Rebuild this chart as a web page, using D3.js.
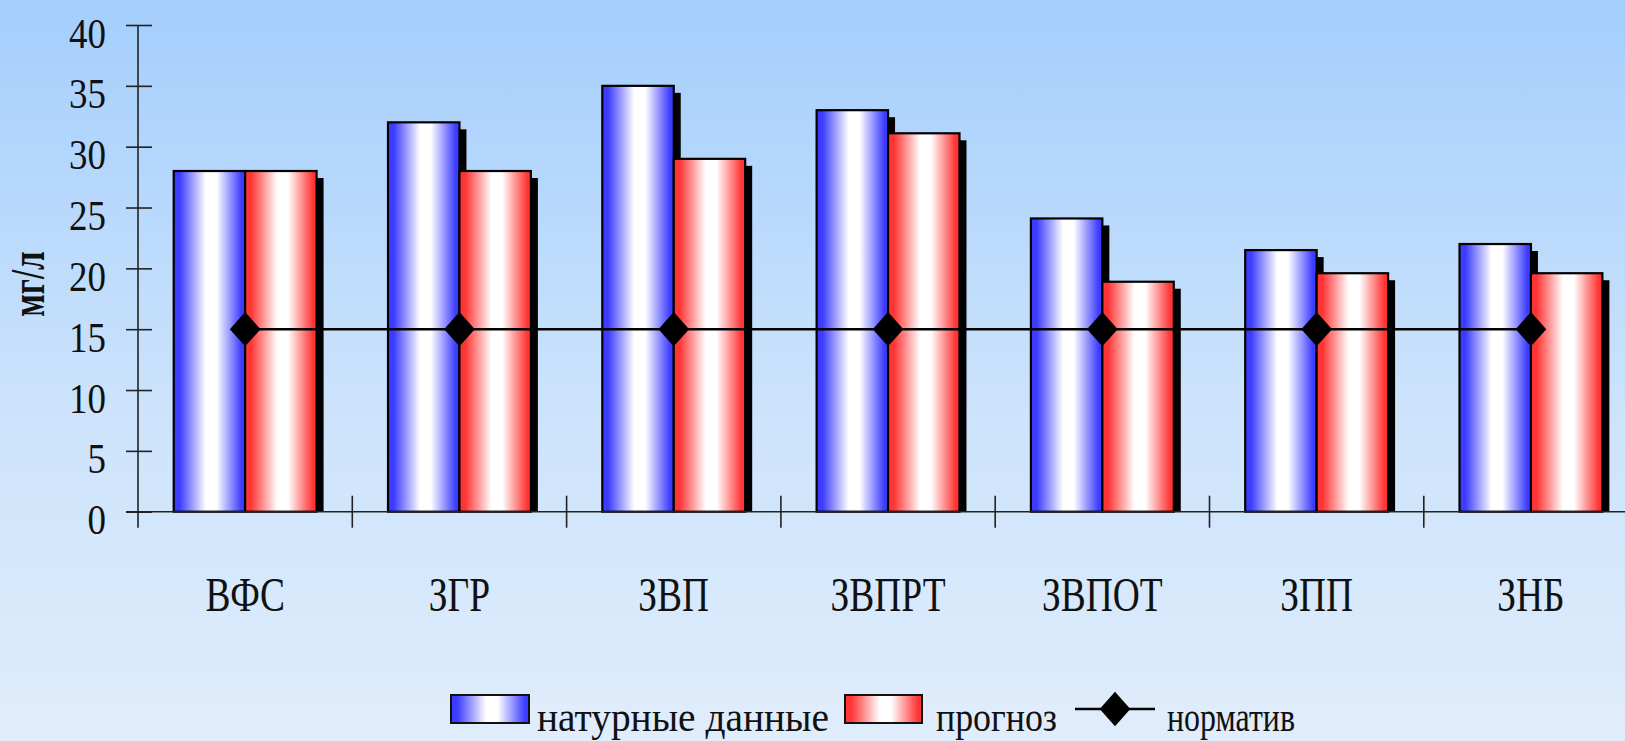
<!DOCTYPE html>
<html>
<head>
<meta charset="utf-8">
<script src="https://cdn.jsdelivr.net/npm/d3@7"></script>
<style>
  html, body { margin: 0; padding: 0; }
  body { width: 1625px; height: 741px; overflow: hidden; }
  svg { display: block; }
  svg text { font-family: "Liberation Serif", "DejaVu Serif", serif; }
</style>
</head>
<body>
<svg id="chart" width="1625" height="741"></svg>
<script>
// Concentrations, mg/l, per monitoring site
const categories = ["ВФС", "ЗГР", "ЗВП", "ЗВПРТ", "ЗВПОТ", "ЗПП", "ЗНБ"];
const observed = [28, 32, 35, 33, 24.1, 21.5, 22];
const forecast = [28, 28, 29, 31.1, 18.9, 19.6, 19.6];
const norm = [15, 15, 15, 15, 15, 15, 15];
const yTicks = [0, 5, 10, 15, 20, 25, 30, 35, 40];
const seriesNames = ["натурные данные", "прогноз", "норматив"];
const yTitle = "мг/л";

const W = 1625, H = 741;
const svg = d3.select("#chart");
const defs = svg.append("defs");

// page background
const bg = defs.append("linearGradient").attr("id", "bg")
  .attr("x1", 0).attr("y1", 0).attr("x2", 0).attr("y2", 1);
bg.append("stop").attr("offset", "0%").attr("stop-color", "#a4cefd");
bg.append("stop").attr("offset", "55%").attr("stop-color", "#cce3fb");
bg.append("stop").attr("offset", "100%").attr("stop-color", "#e0edfb");
svg.append("rect").attr("width", W).attr("height", H).attr("fill", "url(#bg)");

// cylinder-like horizontal shading for the bars
function shade(id, c) {
  const g = defs.append("linearGradient").attr("id", id)
    .attr("x1", 0).attr("y1", 0).attr("x2", 1).attr("y2", 0);
  [[0, c], [0.08, c], [0.45, "#ffffff"], [0.6, "#ffffff"], [0.95, c], [1, c]]
    .forEach(([o, col]) => g.append("stop").attr("offset", o).attr("stop-color", col));
}
shade("gBlue", "#3c3cff");
shade("gRed", "#ff3434");
const fills = ["url(#gBlue)", "url(#gRed)"];

const x0 = 138, bandW = 214.3;
const x = d3.scaleBand().domain(categories).range([x0, x0 + bandW * categories.length]);
const xs = d3.scaleBand().domain([0, 1]).range([bandW / 6, bandW * 5 / 6]);
const y = d3.scaleLinear().domain([0, 40]).range([511.7, 25]);

const series = [observed, forecast];
const shadowOff = 7;

// bars with drop shadows
const groups = svg.append("g").selectAll("g").data(categories).join("g")
  .attr("transform", d => `translate(${x(d)},0)`);
groups.each(function (c, i) {
  const g = d3.select(this);
  series.forEach((s, k) => {
    const v = s[i];
    g.append("rect")
      .attr("x", xs(k) + shadowOff).attr("y", y(v) + shadowOff)
      .attr("width", xs.bandwidth()).attr("height", y(0) - y(v) - shadowOff)
      .attr("fill", "#000");
  });
  series.forEach((s, k) => {
    const v = s[i];
    g.append("rect")
      .attr("x", xs(k)).attr("y", y(v))
      .attr("width", xs.bandwidth()).attr("height", y(0) - y(v))
      .attr("fill", fills[k]).attr("stroke", "#000").attr("stroke-width", 2.2);
  });
});

// y axis
const yAxis = svg.append("g").attr("transform", `translate(${x0},0)`)
  .call(d3.axisLeft(y).tickValues(yTicks).tickSize(12).tickSizeOuter(0).tickFormat(d3.format("d")));
yAxis.attr("font-family", null);
yAxis.select(".domain").attr("d", `M0,${y(40)}V${y(0) + 16}`).attr("stroke", "#222").attr("stroke-width", 1.6);
yAxis.selectAll(".tick line").attr("x1", -12).attr("x2", 14).attr("stroke", "#222").attr("stroke-width", 1.6);
yAxis.selectAll(".tick text")
  .attr("x", 0).attr("dy", null).attr("y", 22)
  .attr("transform", "translate(-32,0) scale(0.86,1)")
  .attr("font-size", 43).attr("fill", "#111");

// x axis with category separators
const xAxis = svg.append("g").attr("transform", `translate(0,${y(0)})`)
  .call(d3.axisBottom(x).tickSize(0).tickSizeOuter(0));
xAxis.attr("font-family", null);
xAxis.select(".domain").attr("d", `M${x0 - 12},0H${W}`).attr("stroke", "#222").attr("stroke-width", 1.6);
xAxis.selectAll(".tick text")
  .attr("y", 0).attr("dy", null)
  .attr("transform", "translate(0,99) scale(0.78,1)")
  .attr("font-size", 48).attr("fill", "#111");
xAxis.selectAll("line.sep").data(categories.slice(1).map(c => x(c)).concat([x0 + bandW * categories.length]))
  .join("line").attr("class", "sep")
  .attr("x1", d => d).attr("x2", d => d).attr("y1", -16).attr("y2", 16)
  .attr("stroke", "#222").attr("stroke-width", 1.6);

// standard line with diamond markers
const cx = d => x(d) + bandW / 2;
const line = d3.line().x((v, i) => cx(categories[i])).y(v => y(v));
svg.append("path").datum(norm).attr("d", line)
  .attr("fill", "none").attr("stroke", "#000").attr("stroke-width", 2.5);
const diamond = d3.symbol(d3.symbolSquare, 470);
svg.append("g").selectAll("path").data(norm).join("path")
  .attr("d", diamond)
  .attr("transform", (v, i) => `translate(${cx(categories[i])},${y(v)}) scale(1,1.12) rotate(45)`)
  .attr("fill", "#000");

// y title
svg.append("text").text(yTitle)
  .attr("transform", "translate(44,284) rotate(-90) scale(0.69,1)")
  .attr("text-anchor", "middle").attr("font-size", 48).attr("font-weight", "bold").attr("fill", "#111");

// legend
const lg = svg.append("g");
const legY = 709, legBase = 731;
const swatches = [{ x: 451, w: 78 }, { x: 845, w: 77 }];
swatches.forEach((s, k) => {
  lg.append("rect").attr("x", s.x).attr("y", legY - 14).attr("width", s.w).attr("height", 28)
    .attr("fill", fills[k]).attr("stroke", "#111").attr("stroke-width", 2);
});
lg.append("line").attr("x1", 1075).attr("x2", 1155).attr("y1", legY).attr("y2", legY)
  .attr("stroke", "#000").attr("stroke-width", 2.5);
lg.append("path").attr("d", diamond)
  .attr("transform", `translate(1115,${legY}) scale(1,1.12) rotate(45)`).attr("fill", "#000");
const legTextX = [537, 936, 1167];
const legTextLen = [292, 121, 128];
seriesNames.forEach((t, k) => {
  lg.append("text").text(t)
    .attr("x", legTextX[k]).attr("y", legBase)
    .attr("textLength", legTextLen[k]).attr("lengthAdjust", "spacingAndGlyphs")
    .attr("font-size", 43).attr("fill", "#111");
});
</script>
</body>
</html>
